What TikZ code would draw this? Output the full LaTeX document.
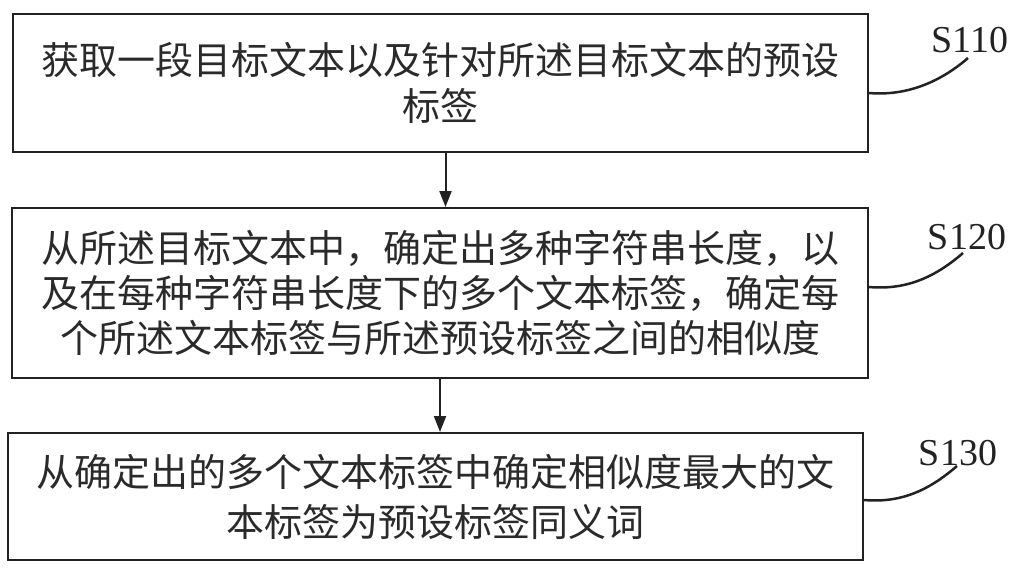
\documentclass[tikz,border=0pt]{standalone}
\usepackage{fontspec}
\setmainfont{Liberation Serif}
\newfontfamily\cjk{Noto Sans CJK SC}
\usetikzlibrary{arrows.meta}
\definecolor{ink}{HTML}{222222}
\definecolor{txt}{HTML}{2a2a2a}
\tikzset{
  stepbox/.style={draw=ink, line width=2pt, inner sep=0pt, align=center,
    text=txt, font=\cjk\fontsize{38}{46}\selectfont, text width=845pt},
  arr/.style={draw=ink, line width=2pt, -{Triangle[width=12pt,length=16pt]}},
  lead/.style={draw=ink, line width=2.5pt},
  steplabel/.style={text=ink, font=\fontsize{38}{40}\selectfont, inner sep=0pt}
}
\begin{document}
\begin{tikzpicture}[x=1pt,y=1pt]
\useasboundingbox[fill=white] (0,0) rectangle (1024,-567);
\node[stepbox, minimum width=855pt, minimum height=138pt] (b1) at (440.5,-83)
  {获取一段目标文本以及针对所述目标文本的预设\\标签};
\node[stepbox, minimum width=856pt, minimum height=170pt,
  font=\cjk\fontsize{38}{45}\selectfont] (b2) at (440,-293)
  {从所述目标文本中，确定出多种字符串长度，以\\及在每种字符串长度下的多个文本标签，确定每\\个所述文本标签与所述预设标签之间的相似度};
\node[stepbox, minimum width=855pt, minimum height=127pt,
  font=\cjk\fontsize{38}{50}\selectfont] (b3) at (435.5,-496.5)
  {从确定出的多个文本标签中确定相似度最大的文\\本标签为预设标签同义词};
\node[steplabel] (s1) at (970,-40) {S110};
\node[steplabel] (s2) at (967,-237) {S120};
\node[steplabel] (s3) at (958,-453) {S130};
\coordinate (e1) at (968,-58);
\coordinate (e2) at (963,-253);
\coordinate (e3) at (957,-466);
\draw[arr] ([xshift=5pt]b1.south) -- ([xshift=5pt]b1.south |- b2.north);
\draw[arr] (b2.south) -- (b2.south |- b3.north);
\draw[lead] ([yshift=-10pt]b1.east) .. controls +(35,-3) and +(-30,-26) .. (e1);
\draw[lead] ([yshift=6pt]b2.east) .. controls +(35,-3) and +(-30,-26) .. (e2);
\draw[lead] ([yshift=-3.5pt]b3.east) .. controls +(35,-3) and +(-30,-26) .. (e3);
\end{tikzpicture}
\end{document}
